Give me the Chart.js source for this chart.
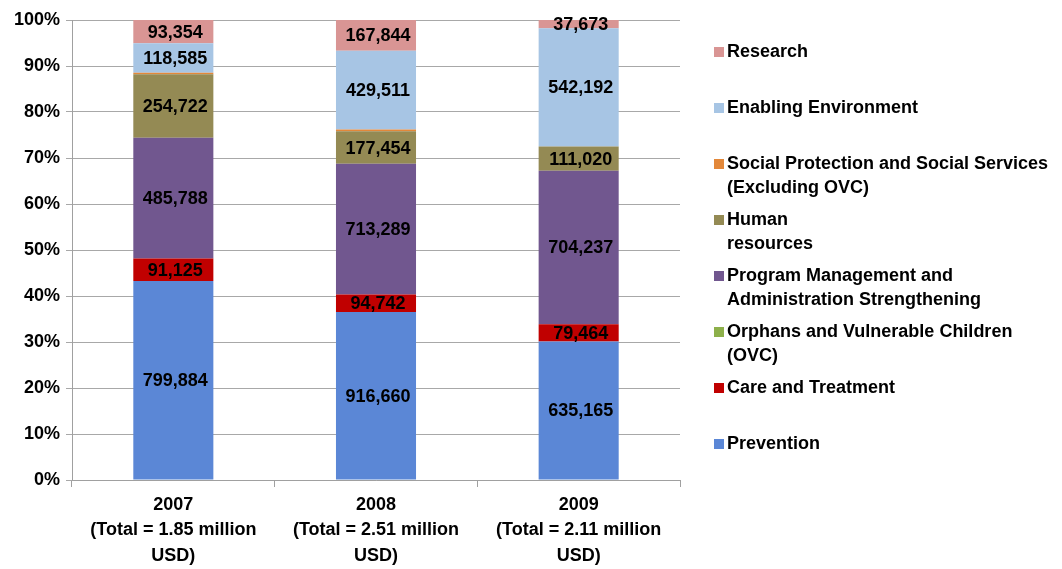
<!DOCTYPE html>
<html>
<head>
<meta charset="utf-8">
<script src="https://cdn.jsdelivr.net/npm/chart.js@4/dist/chart.umd.min.js"></script>
<style>
  html, body { margin: 0; padding: 0; background: #fff; }
  #wrap { position: relative; width: 1062px; height: 569px; }
  #legend { position: absolute; left: 714px; top: 0; font-family: "Liberation Sans Narrow", "Arial Narrow", Arial, sans-serif; font-weight: bold; font-size: 18px; color: #000; }
  .item { position: absolute; left: 0; white-space: nowrap; line-height: 24px; }
  .box { position: absolute; left: 0; top: 8px; width: 10px; height: 10px; }
  .txt { position: absolute; left: 13px; top: 0; }
</style>
</head>
<body>
<div id="wrap">
  <canvas id="chart" width="1062" height="569"></canvas>
  <div id="legend"></div>
</div>
<script>
const categories = [
  ['2007', '(Total = 1.85 million', 'USD)'],
  ['2008', '(Total = 2.51 million', 'USD)'],
  ['2009', '(Total = 2.11 million', 'USD)']
];

// USD per year, bottom of stack first
const prevention = [799884, 916660, 635165];
const careTreatment = [91125, 94742, 79464];
const ovc = [0, 0, 0];
const programManagement = [485788, 713289, 704237];
const humanResources = [254722, 177454, 111020];
const socialProtection = [6500, 10000, 0];
const enablingEnvironment = [118585, 429511, 542192];
const research = [93354, 167844, 37673];

const seriesNames = [
  'Prevention', 'Care and Treatment', 'Orphans and Vulnerable Children (OVC)',
  'Program Management and Administration Strengthening', 'Human resources',
  'Social Protection and Social Services (Excluding OVC)', 'Enabling Environment', 'Research'
];
const seriesColors = ['#5B87D6', '#C00000', '#8DB04A', '#71578F', '#948A54', '#E3883A', '#A7C5E4', '#D99594'];
const seriesValues = [prevention, careTreatment, ovc, programManagement, humanResources, socialProtection, enablingEnvironment, research];
const showLabel = [true, true, false, true, true, false, true, true];

const yTicks = [0, 10, 20, 30, 40, 50, 60, 70, 80, 90, 100];

const totals = categories.map((c, i) => seriesValues.reduce((s, arr) => s + arr[i], 0));

const FONT = '"Liberation Sans Narrow", "Arial Narrow", Arial, sans-serif';

const valueLabels = {
  id: 'valueLabels',
  afterDatasetsDraw(chart) {
    const ctx = chart.ctx;
    ctx.save();
    ctx.font = 'bold 18px ' + FONT;
    ctx.fillStyle = '#000';
    ctx.textAlign = 'center';
    ctx.textBaseline = 'middle';
    chart.data.datasets.forEach((ds, di) => {
      if (!showLabel[di]) return;
      const meta = chart.getDatasetMeta(di);
      meta.data.forEach((bar, i) => {
        const raw = seriesValues[di][i];
        if (!raw) return;
        const y = (bar.y + bar.base) / 2;
        ctx.fillText(raw.toLocaleString('en-US'), bar.x + 2, y + 1);
      });
    });
    ctx.restore();
  }
};

const chart = new Chart(document.getElementById('chart'), {
  type: 'bar',
  data: {
    labels: categories,
    datasets: seriesValues.map((vals, di) => ({
      label: seriesNames[di],
      data: vals.map((v, i) => v / totals[i] * 100),
      backgroundColor: seriesColors[di],
      borderWidth: 0,
      barPercentage: 0.79,
      categoryPercentage: 0.5
    }))
  },
  options: {
    responsive: false,
    animation: false,
    layout: { padding: { top: 20, right: 382, bottom: 0, left: 0 } },
    plugins: {
      legend: { display: false },
      tooltip: { enabled: false }
    },
    scales: {
      x: {
        stacked: true,
        grid: { display: true, offset: true, drawOnChartArea: false, tickLength: 7, color: '#A0A0A0' },
        border: { color: '#A0A0A0' },
        ticks: { color: '#000', font: { family: FONT, size: 18, weight: 'bold', lineHeight: 1.42 }, padding: 5, maxRotation: 0 },
        afterFit(scale) { scale.height = 89; }
      },
      y: {
        stacked: true,
        min: 0,
        max: 100,
        afterBuildTicks(scale) { scale.ticks = yTicks.map(v => ({ value: v })); },
        grid: { color: '#A8A8A8', tickLength: 6 },
        border: { color: '#A0A0A0' },
        ticks: {
          color: '#000',
          padding: 6,
          font: { family: FONT, size: 18, weight: 'bold' },
          callback: v => v + '%'
        },
        afterFit(scale) { scale.width = 72; }
      }
    }
  },
  plugins: [valueLabels]
});

// legend, top entry first, as in the picture
const legendRows = [
  { s: 7, y: 39, lines: ['Research'] },
  { s: 6, y: 95, lines: ['Enabling Environment'] },
  { s: 5, y: 151, lines: ['Social Protection and Social Services', '(Excluding OVC)'] },
  { s: 4, y: 207, lines: ['Human', 'resources'] },
  { s: 3, y: 263, lines: ['Program Management and', 'Administration Strengthening'] },
  { s: 2, y: 319, lines: ['Orphans and Vulnerable Children', '(OVC)'] },
  { s: 1, y: 375, lines: ['Care and Treatment'] },
  { s: 0, y: 431, lines: ['Prevention'] }
];
const legend = document.getElementById('legend');
legendRows.forEach(r => {
  const item = document.createElement('div');
  item.className = 'item';
  item.style.top = r.y + 'px';
  const box = document.createElement('div');
  box.className = 'box';
  box.style.background = seriesColors[r.s];
  const txt = document.createElement('div');
  txt.className = 'txt';
  txt.innerHTML = r.lines.join('<br>');
  item.appendChild(box);
  item.appendChild(txt);
  legend.appendChild(item);
});
</script>
</body>
</html>
